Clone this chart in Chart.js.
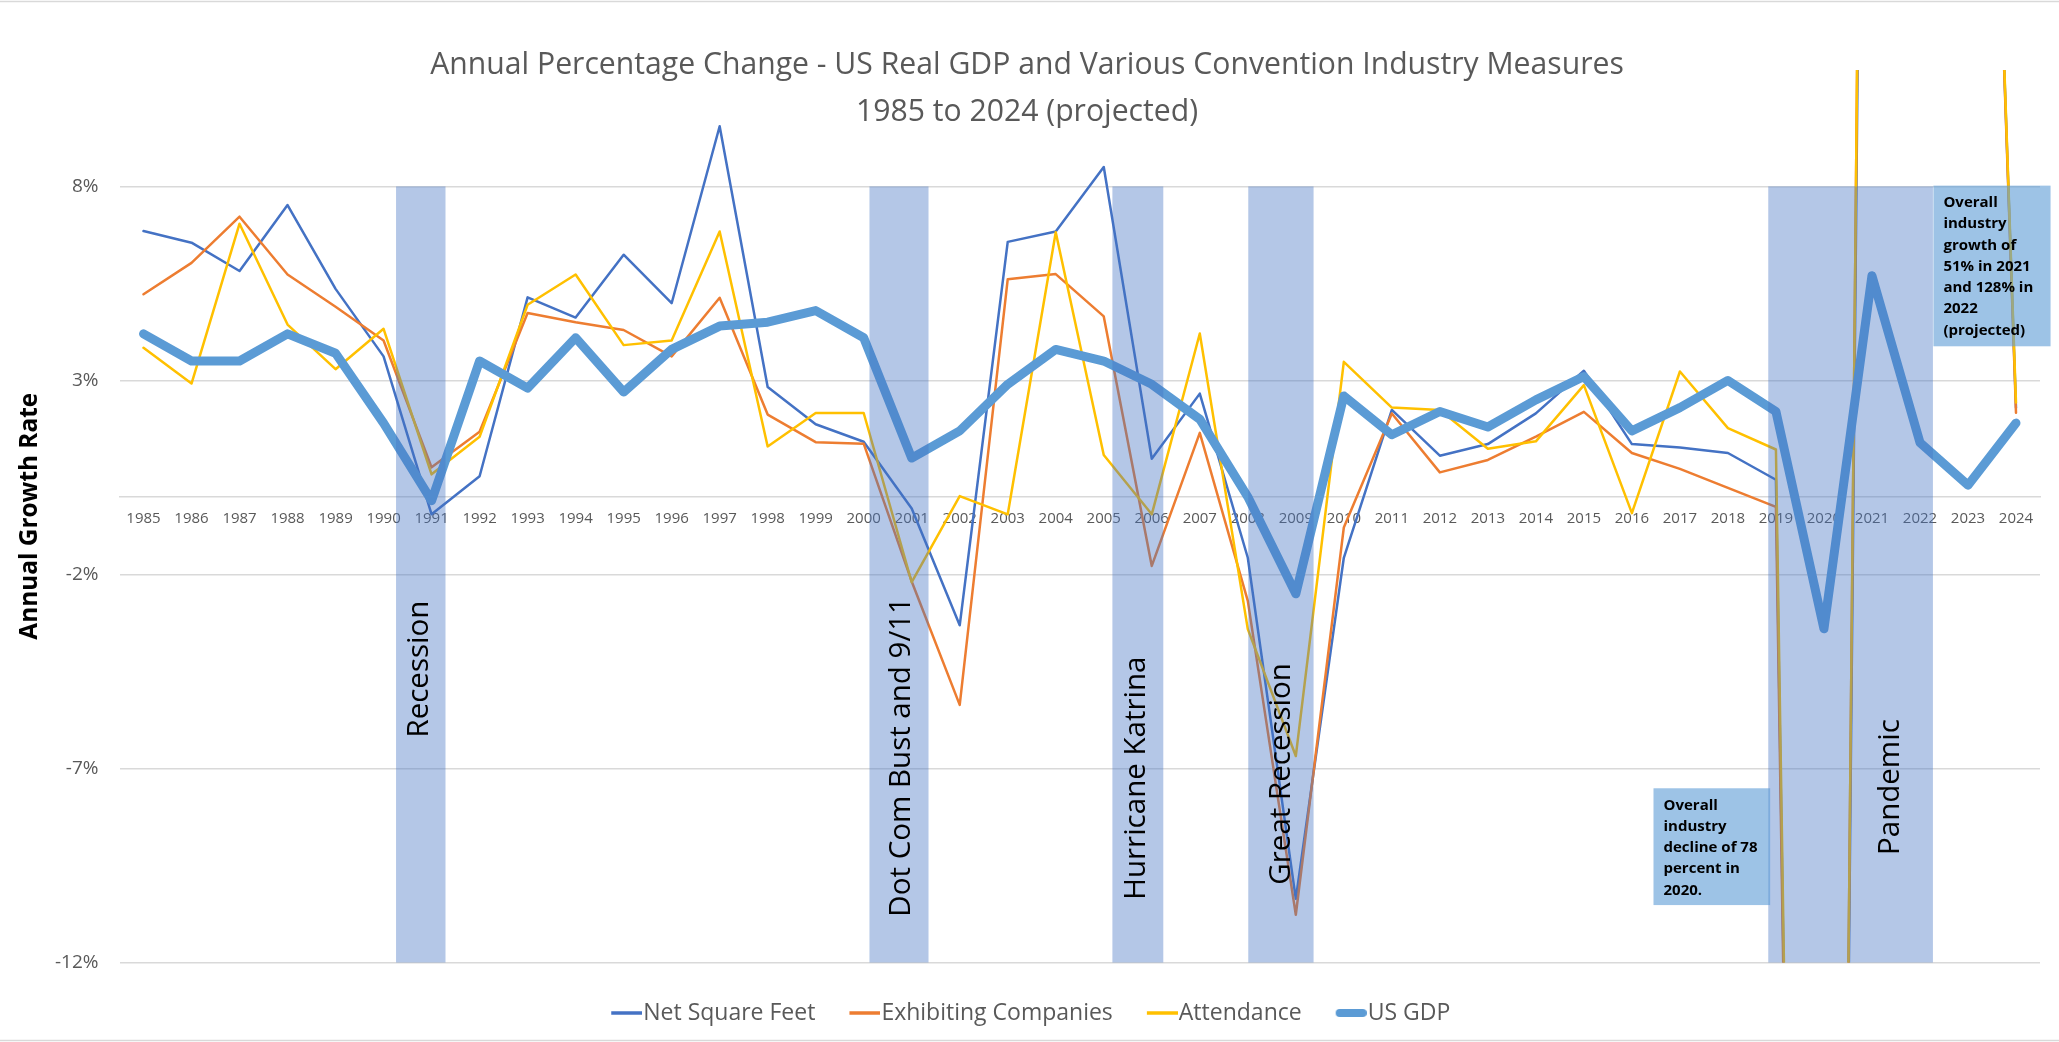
<!DOCTYPE html>
<html>
<head>
<meta charset="utf-8">
<title>Annual Percentage Change - US Real GDP and Various Convention Industry Measures</title>
<script src="https://cdn.jsdelivr.net/npm/chart.js@4.4.1/dist/chart.umd.min.js"></script>
<style>
  html, body { margin: 0; padding: 0; background: #fff; }
</style>
</head>
<body>
<canvas id="chart" width="2059" height="1042"></canvas>
<script>
var FONT = "'Open Sans', 'Noto Sans', sans-serif";

// data (percent change per year)
var years = ['1985', '1986', '1987', '1988', '1989', '1990', '1991', '1992', '1993', '1994',
  '1995', '1996', '1997', '1998', '1999', '2000', '2001', '2002', '2003', '2004',
  '2005', '2006', '2007', '2008', '2009', '2010', '2011', '2012', '2013', '2014',
  '2015', '2016', '2017', '2018', '2019', '2020', '2021', '2022', '2023', '2024'];

var netSquareFeet = [6.85, 6.55, 5.82, 7.52, 5.36, 3.62, -0.45, 0.53, 5.14, 4.62,
  6.24, 4.99, 9.55, 2.83, 1.87, 1.42, -0.30, -3.31, 6.57, 6.84,
  8.5, 0.98, 2.66, -1.57, -10.36, -1.57, 2.24, 1.06, 1.36, 2.15,
  3.25, 1.36, 1.27, 1.13, 0.44, -78, 49, 128, 38, 2.3];

var exhibitingCompanies = [5.22, 6.03, 7.22, 5.73, 4.9, 4.03, 0.76, 1.68, 4.74, 4.5,
  4.3, 3.62, 5.13, 2.12, 1.41, 1.37, -2.18, -5.36, 5.61, 5.74,
  4.65, -1.78, 1.65, -2.68, -10.77, -0.79, 2.15, 0.63, 0.95, 1.55,
  2.19, 1.13, 0.72, 0.23, -0.26, -78, 51, 128, 38, 2.17];

var attendance = [3.84, 2.92, 7.04, 4.44, 3.29, 4.33, 0.58, 1.55, 4.95, 5.73,
  3.91, 4.03, 6.84, 1.3, 2.16, 2.16, -2.2, 0.02, -0.45, 6.82,
  1.08, -0.45, 4.21, -3.41, -6.68, 3.48, 2.3, 2.24, 1.24, 1.43,
  2.88, -0.42, 3.23, 1.77, 1.22, -78, 51, 128, 38, 2.43];

var usGdp = [4.2, 3.5, 3.5, 4.2, 3.7, 1.9, -0.1, 3.5, 2.8, 4.1,
  2.7, 3.8, 4.4, 4.5, 4.8, 4.1, 1.0, 1.7, 2.9, 3.8,
  3.5, 2.9, 2.0, 0.0, -2.5, 2.6, 1.6, 2.2, 1.8, 2.5,
  3.1, 1.7, 2.3, 3.0, 2.2, -3.4, 5.7, 1.4, 0.3, 1.9];

var yTicks = [-12, -7, -2, 3, 8];

// shaded event bands, in category index units (1985 = 0)
var bandNames = ['Recession', 'Dot Com Bust and 9/11', 'Hurricane Katrina', 'Great Recession', 'Pandemic'];
var bandFrom = [5.26, 15.12, 20.18, 23.01, 33.84];
var bandTo = [6.29, 16.35, 21.24, 24.37, 37.27];
var bandTop = 8;
var bandBottom = -12;
var bandLabelX = [5.76, 15.79, 20.69, 23.71, 36.39];
var bandLabelY = [-4.44, -6.7, -7.25, -7.14, -7.48];

// callout boxes
var noteLines = [
  ['Overall', 'industry', 'decline of 78', 'percent in', '2020.'],
  ['Overall', 'industry', 'growth of', '51% in 2021', 'and 128% in', '2022', '(projected)']
];
var noteFrom = [31.45, 37.28];
var noteTo = [33.88, 39.72];
var noteTop = [-7.51, 8.02];
var noteBottom = [-10.52, 3.88];

var titleLines = ['Annual Percentage Change - US Real GDP and Various Convention Industry Measures', '1985 to 2024 (projected)'];
var yTitle = 'Annual Growth Rate';

// pick a font size so a text spans a given width
function fitSize(text, weight, width) {
  var c = document.createElement('canvas').getContext('2d');
  c.font = weight + ' 100px ' + FONT;
  return 100 * width / c.measureText(text).width;
}
var titleSize = fitSize(titleLines[0], 'normal', 1194);
var yTitleSize = fitSize(yTitle, 'bold', 247);

// short legend strokes that run up to the label text
function legendMark(color, width) {
  var c = document.createElement('canvas');
  c.width = 44;
  c.height = 12;
  var g = c.getContext('2d');
  g.strokeStyle = color;
  g.lineWidth = width;
  g.lineCap = width > 4 ? 'round' : 'butt';
  var inset = width > 4 ? width / 2 : 0;
  g.beginPath();
  g.moveTo(13 + inset, 6);
  g.lineTo(44 - inset, 6);
  g.stroke();
  return c;
}

var framePlugin = {
  id: 'frame',
  beforeDraw: function (chart) {
    var ctx = chart.ctx;
    ctx.save();
    ctx.strokeStyle = '#D9D9D9';
    ctx.lineWidth = 1.5;
    ctx.beginPath();
    ctx.moveTo(0, 1.5); ctx.lineTo(chart.width, 1.5);
    ctx.moveTo(0, chart.height - 1.5); ctx.lineTo(chart.width, chart.height - 1.5);
    ctx.stroke();
    ctx.restore();
  },
  afterDraw: function (chart) {
    var ctx = chart.ctx;
    ctx.save();
    ctx.fillStyle = '#595959';
    ctx.font = titleSize.toFixed(2) + 'px ' + FONT;
    ctx.textAlign = 'center';
    ctx.textBaseline = 'alphabetic';
    ctx.fillText(titleLines[0], 1027, 74);
    ctx.fillText(titleLines[1], 1027, 120.5);
    ctx.restore();
  }
};

var bandsPlugin = {
  id: 'bands',
  afterDatasetsDraw: function (chart) {
    var ctx = chart.ctx;
    var xs = chart.scales.x;
    var ys = chart.scales.y;
    ctx.save();
    ctx.fillStyle = 'rgba(68, 114, 196, 0.4)';
    for (var i = 0; i < bandFrom.length; i += 1) {
      var x0 = xs.getPixelForValue(bandFrom[i]);
      var x1 = xs.getPixelForValue(bandTo[i]);
      var y0 = ys.getPixelForValue(bandTop);
      var y1 = ys.getPixelForValue(bandBottom);
      ctx.fillRect(x0, y0, x1 - x0, y1 - y0);
    }
    ctx.fillStyle = '#000';
    ctx.font = '29.5px ' + FONT;
    ctx.textAlign = 'center';
    ctx.textBaseline = 'middle';
    for (var j = 0; j < bandNames.length; j += 1) {
      ctx.save();
      ctx.translate(xs.getPixelForValue(bandLabelX[j]), ys.getPixelForValue(bandLabelY[j]));
      ctx.rotate(-Math.PI / 2);
      ctx.fillText(bandNames[j], 0, 0);
      ctx.restore();
    }

    for (var k = 0; k < noteLines.length; k += 1) {
      var bx0 = xs.getPixelForValue(noteFrom[k]);
      var bx1 = xs.getPixelForValue(noteTo[k]);
      var by0 = ys.getPixelForValue(noteTop[k]);
      var by1 = ys.getPixelForValue(noteBottom[k]);
      ctx.fillStyle = 'rgba(91, 155, 213, 0.6)';
      ctx.fillRect(bx0, by0, bx1 - bx0, by1 - by0);
      ctx.fillStyle = '#000';
      ctx.font = 'bold 15px ' + FONT;
      ctx.textAlign = 'left';
      ctx.textBaseline = 'middle';
      for (var n = 0; n < noteLines[k].length; n += 1) {
        ctx.fillText(noteLines[k][n], bx0 + 10, by0 + 17 + n * 21.3);
      }
    }
    ctx.restore();
  }
};

function lineSet(label, data, color, width, order) {
  return {
    label: label,
    data: data,
    borderColor: color,
    backgroundColor: color,
    borderWidth: width,
    pointRadius: 0,
    pointHoverRadius: 0,
    pointStyle: legendMark(color, width < 4 ? 3.5 : 8),
    tension: 0,
    borderJoinStyle: 'round',
    borderCapStyle: 'round',
    order: order
  };
}

new Chart(document.getElementById('chart').getContext('2d'), {
  type: 'line',
  data: {
    labels: years,
    datasets: [
      lineSet('Net Square Feet', netSquareFeet, '#4472C4', 2.5, 3),
      lineSet('Exhibiting Companies', exhibitingCompanies, '#ED7D31', 2.5, 2),
      lineSet('Attendance', attendance, '#FFC000', 2.5, 1),
      lineSet('US GDP', usGdp, '#5B9BD5', 9, 0)
    ]
  },
  options: {
    responsive: false,
    animation: false,
    layout: { padding: { left: 19, right: 19, top: 70, bottom: 7.5 } },
    plugins: {
      tooltip: { enabled: false },
      title: { display: false },
      legend: {
        display: true,
        position: 'bottom',
        title: { display: true, text: '', font: { size: 6, lineHeight: 1 }, padding: { top: 1.5, bottom: 0 } },
        labels: {
          usePointStyle: true,
          font: { family: FONT, size: 23 },
          color: '#595959',
          padding: 31.5,
          sort: function (a, b) { return a.datasetIndex - b.datasetIndex; }
        }
      }
    },
    scales: {
      x: {
        type: 'category',
        position: { y: 0 },
        offset: true,
        grid: { display: false, drawTicks: false },
        border: { display: true, color: '#D9D9D9', width: 1.5 },
        ticks: {
          autoSkip: false,
          maxRotation: 0,
          minRotation: 0,
          font: { family: FONT, size: 15 },
          color: '#595959',
          padding: 13
        }
      },
      y: {
        min: -12,
        max: 11,
        afterBuildTicks: function (s) {
          s.ticks = yTicks.map(function (v) { return { value: v }; });
        },
        afterFit: function (s) { s.width = 100.5; },
        grid: { color: '#D9D9D9', lineWidth: 1.5, drawTicks: false },
        border: { display: false },
        ticks: {
          font: { family: FONT, size: 19 },
          color: '#595959',
          padding: 21,
          callback: function (v) { return v + '%'; }
        },
        title: {
          display: true,
          text: yTitle,
          font: { family: FONT, size: yTitleSize, weight: 'bold' },
          color: '#000',
          padding: { top: 30 - 19 - yTitleSize * 0.6, bottom: 0 }
        }
      }
    }
  },
  plugins: [framePlugin, bandsPlugin]
});
</script>
</body>
</html>
